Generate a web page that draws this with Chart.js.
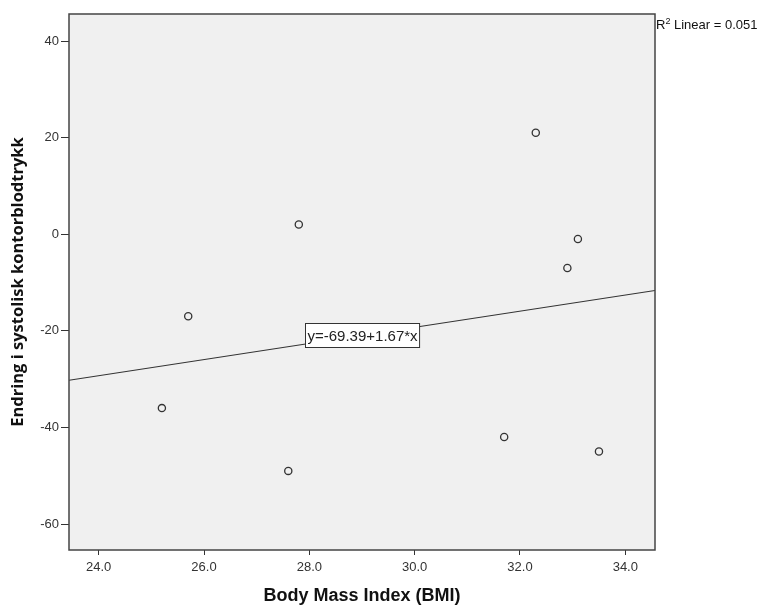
<!DOCTYPE html>
<html>
<head>
<meta charset="utf-8">
<script src="https://cdn.jsdelivr.net/npm/chart.js@4.4.1/dist/chart.umd.min.js"></script>
<style>
  html, body { margin: 0; padding: 0; background: #ffffff; }
  #wrap { width: 759px; height: 608px; }
</style>
</head>
<body>
<div id="wrap"><canvas id="c" width="759" height="608"></canvas></div>
<script>
// ---- Data ----
const bmi = [25.2, 25.7, 27.6, 27.8, 31.7, 32.3, 32.9, 33.1, 33.5];
const bpChange = [-36, -17, -49, 2, -42, 21, -7, -1, -45];
const fitIntercept = -69.39;
const fitSlope = 1.67;
const fitLabel = 'y=-69.39+1.67*x';
const r2Value = '0.051';
const xTickValues = [24, 26, 28, 30, 32, 34];
const yTickValues = [-60, -40, -20, 0, 20, 40];
const xRange = [23.436, 34.564];
const yRange = [-65.38, 45.59];
const xTitle = 'Body Mass Index (BMI)';
const yTitle = 'Endring i systolisk kontorblodtrykk';

const points = bmi.map((x, i) => ({ x: x, y: bpChange[i] }));
const fitLine = xRange.map(x => ({ x: x, y: fitIntercept + fitSlope * x }));

const decor = {
  id: 'decor',
  beforeDatasetsDraw(chart) {
    const { ctx, chartArea: a } = chart;
    ctx.save();
    ctx.fillStyle = '#f0f0f0';
    ctx.fillRect(a.left, a.top, a.right - a.left, a.bottom - a.top);
    ctx.restore();
  },
  afterDraw(chart) {
    const { ctx, chartArea: a, scales } = chart;
    ctx.save();
    // fit label box centred on the line at the middle of the x range
    const xm = (xRange[0] + xRange[1]) / 2;
    const cx = scales.x.getPixelForValue(xm);
    const cy = scales.y.getPixelForValue(fitIntercept + fitSlope * xm);
    ctx.font = '15px "Liberation Sans", Arial, sans-serif';
    const tw = ctx.measureText(fitLabel).width;
    const bw = tw + 4, bh = 24;
    const bx = Math.round(cx - bw / 2) + 0.5, by = Math.round(cy - bh / 2) + 0.5;
    ctx.fillStyle = '#ffffff';
    ctx.fillRect(bx, by, bw, bh);
    ctx.strokeStyle = '#333333';
    ctx.lineWidth = 1;
    ctx.strokeRect(bx, by, bw, bh);
    ctx.fillStyle = '#222222';
    ctx.textBaseline = 'middle';
    ctx.textAlign = 'left';
    ctx.fillText(fitLabel, bx + 2, by + bh / 2 + 1);

    // plot frame
    ctx.strokeStyle = '#444444';
    ctx.lineWidth = 1.5;
    ctx.strokeRect(a.left, a.top, a.right - a.left, a.bottom - a.top);

    // R² annotation
    ctx.fillStyle = '#111111';
    ctx.textBaseline = 'alphabetic';
    ctx.font = '13px "Liberation Sans", Arial, sans-serif';
    let x0 = a.right + 1;
    const yb = 29;
    ctx.fillText('R', x0, yb);
    x0 += ctx.measureText('R').width;
    ctx.font = '9px "Liberation Sans", Arial, sans-serif';
    ctx.fillText('2', x0, yb - 5);
    x0 += ctx.measureText('2').width;
    ctx.font = '13px "Liberation Sans", Arial, sans-serif';
    ctx.fillText(' Linear = ' + r2Value, x0, yb);
    ctx.restore();
  }
};

new Chart(document.getElementById('c'), {
  type: 'scatter',
  data: {
    datasets: [
      {
        type: 'line',
        data: fitLine,
        borderColor: '#333333',
        borderWidth: 1.1,
        pointRadius: 0,
        fill: false,
        order: 2
      },
      {
        data: points,
        pointRadius: 3.6,
        pointBorderWidth: 1.3,
        pointBorderColor: '#333333',
        pointBackgroundColor: 'rgba(0,0,0,0)',
        order: 1
      }
    ]
  },
  options: {
    responsive: false,
    animation: false,
    layout: { padding: { left: 0, top: 14, right: 104, bottom: 0 } },
    plugins: { legend: { display: false }, tooltip: { enabled: false } },
    scales: {
      x: {
        type: 'linear',
        min: xRange[0], max: xRange[1],
        afterFit(s) { s.height = 58; },
        afterBuildTicks(s) { s.ticks = xTickValues.map(v => ({ value: v })); },
        border: { display: false },
        grid: { drawOnChartArea: false, drawTicks: true, tickLength: 5, color: '#333333', lineWidth: 1 },
        ticks: {
          color: '#333333', padding: 5, maxRotation: 0, autoSkip: false,
          font: { family: '"Liberation Sans", Arial, sans-serif', size: 13 },
          callback: v => Number(v).toFixed(1)
        },
        title: {
          display: true, text: xTitle, color: '#111111',
          font: { family: '"Liberation Sans", Arial, sans-serif', size: 18, weight: 'bold' },
          padding: { top: 0, bottom: 1 }
        }
      },
      y: {
        type: 'linear',
        min: yRange[0], max: yRange[1],
        afterFit(s) { s.width = 69; },
        afterBuildTicks(s) { s.ticks = yTickValues.map(v => ({ value: v })); },
        border: { display: false },
        grid: { drawOnChartArea: false, drawTicks: true, tickLength: 8, color: '#333333', lineWidth: 1 },
        ticks: {
          color: '#333333', padding: 2, autoSkip: false,
          font: { family: '"Liberation Sans", Arial, sans-serif', size: 13 },
          callback: v => String(v)
        },
        title: {
          display: true, text: yTitle, color: '#111111',
          font: { family: '"Open Sans", "DejaVu Sans", sans-serif', size: 16.5, weight: 'bold' },
          padding: { top: 8, bottom: 0 }
        }
      }
    }
  },
  plugins: [decor]
});
</script>
</body>
</html>
